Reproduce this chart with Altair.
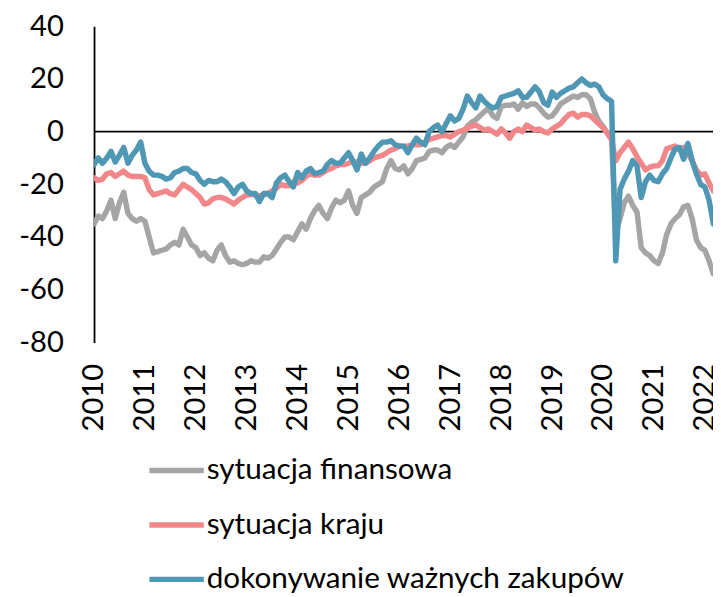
import altair as alt
import pandas as pd

# Monthly values, Jan 2010 .. Mar 2022
fin = [-35, -32, -33, -30, -26, -33, -27, -23, -31, -33, -34, -33,
       -34, -40, -46, -45.5, -45, -44.5, -43, -42, -43, -37, -40, -43,
       -44, -47, -46, -48, -49, -45, -43, -47, -49.5, -49, -50, -50.5,
       -50, -49, -49.5, -49.5, -47.5, -48, -47, -44.5, -42, -40, -40, -41,
       -38, -35, -37, -33, -30, -28, -31, -33, -29, -26, -27, -26,
       -22.5, -28, -31, -25, -24, -23, -21, -20, -19, -14, -11, -14,
       -14.5, -13, -16, -14, -11, -10.5, -10, -7.5, -7, -7, -8, -6,
       -5, -6, -4, -2, 2, 3.5, 4.5, 6, 7.5, 9, 6, 5,
       9.5, 10, 10, 10.5, 8.5, 11, 9.5, 10.5, 10.5, 9, 7, 5.5,
       6, 8, 10.5, 11.5, 12.5, 13.5, 13, 14, 14, 12.5, 7.5, 4,
       2, -0.5, -3, -38, -33, -27, -24.5, -28, -30.5, -44, -46, -47,
       -49, -50, -46, -39, -35, -33, -31.5, -28.5, -28, -33, -41, -44,
       -45, -49, -54]

kraj = [-17.5, -18.5, -18, -16, -15.5, -17, -16, -15, -16.5, -17, -17, -17,
        -17.5, -22, -24, -23.5, -23, -22.5, -23.5, -24, -22, -20, -21, -22,
        -23.5, -25, -27.5, -27, -25.5, -25, -25, -25.5, -26.5, -27.5, -26, -25,
        -24, -24, -24, -24.5, -24, -23.5, -22.5, -21.5, -20, -20.5, -20.5, -19,
        -19.5, -18.5, -17, -16, -16.5, -16.5, -15.5, -14.5, -14, -13, -12.5, -12.5,
        -12, -11.5, -11.5, -12, -12, -11, -10, -9.5, -9, -8, -7, -6.5,
        -5.5, -5.5, -5.5, -5, -5, -5, -4, -3, -2.5, -2, -1.5, -1.5,
        -2, -1, 0, 0.5, 1.5, 2, 2.5, 1.5, 0.5, 1, 0, -1,
        1, -0.5, -2.5, 0, 1, 0, 2.5, 1.5, 0.5, 1, 0, -0.5,
        1, 2, 3, 5, 6.5, 7, 5.5, 6.5, 6.5, 6, 4.5, 3,
        1.5, -0.5, -3, -11, -8, -6, -4, -6.5, -9.5, -12, -14.5, -13.5,
        -13, -13, -11, -6.5, -6, -5.5, -7, -6, -8.5, -11, -14.5, -16.5,
        -16, -19.5, -22.5]

zak = [-12.5, -10, -12, -10, -7.5, -11.5, -9, -6, -12, -9, -7, -4,
       -12, -15, -16.5, -16.5, -17, -18, -17.5, -15.5, -15, -14, -14, -15.5,
       -16, -18.5, -20, -18.5, -19, -19, -18, -19, -21, -23.5, -21, -20,
       -22.5, -23.5, -23.5, -26.5, -23.5, -23.5, -25, -19.5, -17.5, -16.5, -19, -21,
       -15.5, -17.5, -15, -14, -16, -15.5, -15, -12.5, -11, -12, -12, -10,
       -8, -11, -14.5, -8.5, -12, -10, -7.5, -5.5, -4, -4, -3.5, -5,
       -5.5, -5.5, -8, -5, -2.5, -4, -5, 0, 1.5, 2.5, 0, 3,
       6, 4, 5, 8.5, 13.5, 11, 9, 13.5, 11.5, 10, 9, 9.5,
       13, 13.5, 14, 14.5, 15.5, 13, 13, 15, 17, 15, 11, 10,
       15, 13, 14.5, 15.5, 16.5, 17, 18.5, 20, 18.5, 17.5, 18, 17,
       14, 12.5, 11.5, -49, -22, -18, -15, -11, -13, -25, -19, -16.5,
       -18.5, -19, -16, -14, -10, -6.5, -6, -10.5, -4.5, -11, -16, -20,
       -21, -26, -35]

series_names = ["sytuacja finansowa", "sytuacja kraju", "dokonywanie ważnych zakupów"]
colors = ["#A5A5A5", "#F2878A", "#4E97B5"]
year_ticks = list(range(2010, 2023))
y_ticks = [-80, -60, -40, -20, 0, 20, 40]

rows = []
for name, vals in zip(series_names, [fin, kraj, zak]):
    for m, v in enumerate(vals):
        rows.append({"t": 2010 + m / 12.0, "v": v, "s": name})
df = pd.DataFrame(rows)

FONT = "Lato"
AX_FS = 29.5

zero = alt.Chart(pd.DataFrame({"z": [0]})).mark_rule(color="black", strokeWidth=1.8).encode(
    y=alt.Y("z:Q", scale=alt.Scale(domain=[-80, 40], nice=False))
)

lines = alt.Chart(df).mark_line(strokeWidth=5.5, strokeJoin="round", strokeCap="round",
                                clip=True).encode(
    x=alt.X("t:Q",
            scale=alt.Scale(domain=[2010, 2022.16], nice=False, zero=False),
            axis=alt.Axis(values=year_ticks, labelExpr="'' + datum.value", labelAngle=-90,
                          ticks=False, domain=False, grid=False, labelFontSize=AX_FS,
                          labelPadding=21, labelFont=FONT, labelColor="black", title=None,
                          labelOverlap=False)),
    y=alt.Y("v:Q",
            scale=alt.Scale(domain=[-80, 40], nice=False),
            axis=alt.Axis(values=y_ticks, labelExpr="'' + datum.value", ticks=False,
                          grid=False, domainColor="black", domainWidth=1.8,
                          labelFontSize=AX_FS, labelPadding=31, labelFont=FONT,
                          labelColor="black", title=None)),
    color=alt.Color("s:N", sort=series_names,
                    scale=alt.Scale(domain=series_names, range=colors),
                    legend=alt.Legend(orient="none", legendX=53, legendY=419,
                                      direction="vertical", title=None,
                                      symbolType="stroke", symbolSize=3025,
                                      symbolStrokeWidth=5.5, labelFontSize=30,
                                      labelFont=FONT, labelColor="black",
                                      labelOffset=0, rowPadding=9, labelLimit=600)),
)

chart = alt.layer(zero, lines).properties(
    width=626, height=320,
    padding={"left": 87, "top": 15, "right": 0, "bottom": 254},
    autosize=alt.AutoSizeParams(type="none"),
    background="white",
).configure_view(stroke=None)

chart.save("out.html", embed_options={"renderer": "svg", "actions": False})
